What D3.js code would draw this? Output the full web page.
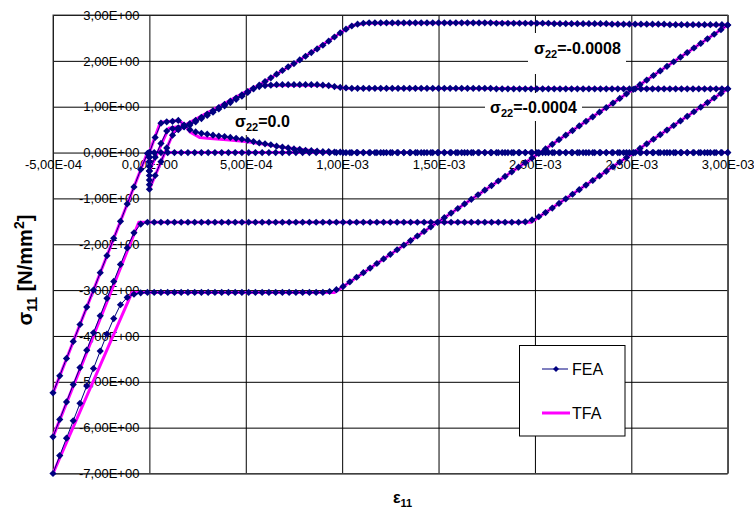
<!DOCTYPE html>
<html>
<head>
<meta charset="utf-8">
<script src="https://cdn.jsdelivr.net/npm/d3@7"></script>
<style>
body { margin: 0; background: #fff; }
svg text { font-family: "Liberation Sans", Arial, sans-serif; }
</style>
</head>
<body>
<svg width="754" height="510"></svg>
<script>
// strains are stored in units of 1e-4
var STRAIN_UNIT = 1e-4;

var strainLoad = [0,0.3,0.6,0.9,1.2,1.5,1.8,2.1,2.4,2.7,
  3,3.3,3.6,3.9,4.2,4.5,4.8,5.1,5.4,5.7,
  6,6.3,6.6,6.9,7.2,7.5,7.8,8.1,8.4,8.7,
  9,9.3,9.6,9.9,10.2,10.5,10.8,11.1,11.4,11.7,
  12,12.3,12.6,12.9,13.2,13.5,13.8,14.1,14.4,14.7,
  15,15.3,15.6,15.9,16.2,16.5,16.8,17.1,17.4,17.7,
  18,18.3,18.6,18.9,19.2,19.5,19.8,20.1,20.4,20.7,
  21,21.3,21.6,21.9,22.2,22.5,22.8,23.1,23.4,23.7,
  24,24.3,24.6,24.9,25.2,25.5,25.8,26.1,26.4,26.7,
  27,27.3,27.6,27.9,28.2,28.5,28.8,29.1,29.4,29.7,
  30];

var strainUnload = [30,29.65,29.3,28.95,28.6,28.25,27.9,27.55,27.2,26.85,
  26.5,26.15,25.8,25.45,25.1,24.75,24.4,24.05,23.7,23.35,
  23,22.65,22.3,21.95,21.6,21.25,20.9,20.55,20.2,19.85,
  19.5,19.15,18.8,18.45,18.1,17.75,17.4,17.05,16.7,16.35,
  16,15.65,15.3,14.95,14.6,14.25,13.9,13.55,13.2,12.85,
  12.5,12.15,11.8,11.45,11.1,10.75,10.4,10.05,9.7,9.35,
  9,8.65,8.3,7.95,7.6,7.25,6.9,6.55,6.2,5.85,
  5.5,5.15,4.8,4.45,4.1,3.75,3.4,3.05,2.7,2.35,
  2,1.65,1.3,0.95,0.6,0.25,-0.1,-0.45,-0.8,-1.15,
  -1.5,-1.85,-2.2,-2.55,-2.9,-3.25,-3.6,-3.95,-4.3,-4.65,
  -5];

// FEA: stress at strain 0 while sigma22 is applied
var feaPre0 = [];
var feaPre4 = [0,-0.1,-0.2,-0.3];
var feaPre8 = [0,-0.1,-0.2,-0.3,-0.4,-0.5,-0.6,-0.7];

// FEA loading (at strainLoad)
var feaLoad0 = [0,0.33,0.64,0.67,0.68,0.70,0.60,0.50,0.45,0.42,
  0.40,0.38,0.36,0.35,0.33,0.31,0.29,0.27,0.24,0.21,
  0.19,0.17,0.14,0.12,0.10,0.08,0.07,0.05,0.04,0.03,
  0.02,0.02,0.01,0.01,0,0,0,0,0,0,
  0,0,0,0,0,0,0,0,0,0,
  0,0,0,0,0,0,0,0,0,0,
  0,0,0,0,0,0,0,0,0,0,
  0,0,0,0,0,0,0,0,0,0,
  0,0,0,0,0,0,0,0,0,0,
  0,0,0,0,0,0,0,0,0,0,
  0];
var feaLoad4 = [-0.40,-0.10,0.20,0.47,0.52,0.54,0.57,0.63,0.70,0.77,
  0.84,0.91,0.98,1.05,1.12,1.19,1.26,1.33,1.40,1.44,
  1.46,1.47,1.48,1.48,1.48,1.48,1.48,1.48,1.48,1.48,
  1.47,1.46,1.44,1.42,1.41,1.40,1.40,1.40,1.40,1.40,
  1.40,1.40,1.40,1.40,1.40,1.40,1.40,1.40,1.40,1.40,
  1.40,1.40,1.40,1.40,1.40,1.40,1.40,1.40,1.40,1.40,
  1.39,1.39,1.39,1.39,1.39,1.39,1.39,1.39,1.39,1.39,
  1.39,1.39,1.39,1.39,1.39,1.39,1.39,1.39,1.39,1.39,
  1.39,1.39,1.39,1.39,1.39,1.39,1.39,1.39,1.39,1.39,
  1.39,1.39,1.39,1.39,1.39,1.39,1.39,1.39,1.39,1.39,
  1.39];
var feaLoad8 = [-0.80,-0.50,-0.20,0.10,0.38,0.50,0.56,0.60,0.67,0.74,
  0.81,0.88,0.95,1.02,1.09,1.16,1.23,1.31,1.39,1.47,
  1.55,1.63,1.71,1.79,1.87,1.94,2.02,2.10,2.18,2.26,
  2.34,2.43,2.52,2.61,2.69,2.76,2.80,2.82,2.83,2.83,
  2.83,2.83,2.83,2.83,2.83,2.83,2.83,2.83,2.83,2.83,
  2.83,2.83,2.83,2.83,2.83,2.83,2.83,2.83,2.83,2.83,
  2.82,2.82,2.82,2.82,2.82,2.82,2.82,2.82,2.82,2.82,
  2.81,2.81,2.81,2.81,2.81,2.81,2.81,2.81,2.81,2.81,
  2.80,2.80,2.80,2.80,2.80,2.80,2.80,2.80,2.80,2.80,
  2.79,2.79,2.79,2.79,2.79,2.79,2.79,2.79,2.79,2.79,
  2.78];

// FEA unloading (at strainUnload)
var feaUnload0 = [0,0,0,0,0,0,0,0,0,0,
  0,0,0,0,0,0,0,0,0,0,
  0,0,0,0,0,0,0,0,0,0,
  0,0,0,0,0,0,0,0,0,0,
  0,0,0,0,0,0,0,0,0,0,
  0,0,0,0,0,0,0,0,0,0,
  0,0,0,0,0,0,0,0,0,0,
  0,0,0,0,0,0,0,0,0,0,
  0,0,0,0,0,0,-0.02,-0.37,-0.75,-1.12,
  -1.50,-1.87,-2.25,-2.62,-3.00,-3.37,-3.75,-4.12,-4.49,-4.87,
  -5.24];
var feaUnload4 = [1.39,1.29,1.19,1.09,0.99,0.89,0.79,0.69,0.59,0.49,
  0.39,0.29,0.19,0.09,-0.01,-0.11,-0.21,-0.31,-0.41,-0.51,
  -0.61,-0.71,-0.81,-0.91,-1.01,-1.11,-1.21,-1.31,-1.40,-1.47,
  -1.51,-1.52,-1.52,-1.52,-1.52,-1.52,-1.52,-1.52,-1.52,-1.52,
  -1.52,-1.52,-1.52,-1.52,-1.52,-1.52,-1.52,-1.52,-1.52,-1.52,
  -1.52,-1.52,-1.52,-1.52,-1.52,-1.52,-1.52,-1.52,-1.52,-1.52,
  -1.52,-1.52,-1.52,-1.52,-1.52,-1.52,-1.52,-1.52,-1.52,-1.52,
  -1.52,-1.52,-1.52,-1.52,-1.52,-1.52,-1.52,-1.52,-1.52,-1.52,
  -1.52,-1.52,-1.52,-1.52,-1.52,-1.52,-1.52,-1.56,-1.75,-2.08,
  -2.44,-2.81,-3.18,-3.56,-3.93,-4.31,-4.69,-5.06,-5.44,-5.82,
  -6.20];
var feaUnload8 = [2.78,2.68,2.58,2.48,2.38,2.28,2.18,2.08,1.98,1.88,
  1.78,1.68,1.58,1.48,1.38,1.28,1.18,1.08,0.98,0.88,
  0.78,0.68,0.58,0.48,0.38,0.28,0.18,0.08,-0.02,-0.12,
  -0.22,-0.32,-0.42,-0.52,-0.62,-0.72,-0.82,-0.92,-1.02,-1.12,
  -1.22,-1.32,-1.42,-1.52,-1.62,-1.72,-1.82,-1.92,-2.02,-2.12,
  -2.22,-2.32,-2.42,-2.52,-2.62,-2.72,-2.82,-2.92,-2.99,-3.03,
  -3.05,-3.05,-3.05,-3.05,-3.05,-3.05,-3.05,-3.05,-3.05,-3.05,
  -3.05,-3.05,-3.05,-3.05,-3.05,-3.05,-3.05,-3.05,-3.05,-3.05,
  -3.05,-3.05,-3.05,-3.05,-3.05,-3.05,-3.05,-3.06,-3.09,-3.16,
  -3.32,-3.62,-3.96,-4.33,-4.71,-5.09,-5.47,-5.85,-6.23,-6.61,
  -7.00];

// TFA curves, [strain (1e-4), stress]
var tfa0 = [[0,0],[0.57,0.66],[1.0,0.68],[1.5,0.70],[1.8,0.62],[2.1,0.45],[2.6,0.33],[3.0,0.31],
  [4.0,0.28],[5.0,0.24],[6.0,0.18],[7.0,0.11],[8.0,0.06],[9.0,0.02],[10,0],[30,0],
  [-0.1,0],[-5,-5.25]];
var tfa4 = [[0,-0.4],[1.0,0.53],[1.4,0.56],[1.8,0.59],[5.4,1.42],[6.0,1.47],[9.0,1.47],[10.2,1.40],[30,1.39],
  [19.8,-1.52],[-0.55,-1.52],[-5,-6.2]];
var tfa8 = [[0,-0.8],[1.26,0.45],[1.8,0.56],[5.1,1.32],[7.8,2.02],[9.9,2.61],[10.5,2.77],[11.2,2.82],
  [18,2.83],[30,2.78],[9.6,-3.05],[-0.9,-3.05],[-5,-7.0]];

var xTicks = [-5e-4, 0, 5e-4, 1e-3, 1.5e-3, 2e-3, 2.5e-3, 3e-3];
var xTickLabels = ["-5,00E-04","0,00E+00","5,00E-04","1,00E-03","1,50E-03","2,00E-03","2,50E-03","3,00E-03"];
var yTicks = [3, 2, 1, 0, -1, -2, -3, -4, -5, -6, -7];
var yTickLabels = ["3,00E+00","2,00E+00","1,00E+00","0,00E+00","-1,00E+00","-2,00E+00","-3,00E+00",
  "-4,00E+00","-5,00E+00","-6,00E+00","-7,00E+00"];

var seriesNames = ["FEA", "TFA"];

var svg = d3.select("svg"),
    plotL = 53, plotR = 727.7, plotT = 15, plotB = 473.5;

var x = d3.scaleLinear().domain([-5e-4, 3e-3]).range([plotL, plotR]);
var y = d3.scaleLinear().domain([-7, 3]).range([plotB, plotT]);

svg.append("rect").attr("width", 754).attr("height", 510).attr("fill", "#fff");

// gridlines
svg.append("g")
    .attr("transform", "translate(0," + plotB + ")")
    .call(d3.axisBottom(x).tickValues(xTicks).tickSize(-(plotB - plotT)).tickFormat(""))
    .call(function(g) { g.select(".domain").remove(); })
    .selectAll("line").attr("stroke", "#000");
svg.append("g")
    .attr("transform", "translate(" + plotL + ",0)")
    .call(d3.axisLeft(y).tickValues(yTicks).tickSize(-(plotR - plotL)).tickFormat(""))
    .call(function(g) { g.select(".domain").remove(); })
    .selectAll("line").attr("stroke", "#000");

svg.append("rect")
    .attr("x", plotL).attr("y", plotT)
    .attr("width", plotR - plotL).attr("height", plotB - plotT)
    .attr("fill", "none").attr("stroke", "#404040");

// white boxes behind the case labels
var boxes = [[528, 33, 98, 41], [485, 93, 97, 28], [232, 110, 60, 25]];
svg.selectAll(".lblbox").data(boxes).enter().append("rect")
    .attr("x", function(d) { return d[0]; }).attr("y", function(d) { return d[1]; })
    .attr("width", function(d) { return d[2]; }).attr("height", function(d) { return d[3]; })
    .attr("fill", "#fff");

// tick labels sit on the axes through the origin
svg.append("g")
    .attr("transform", "translate(0," + y(0) + ")")
    .call(d3.axisBottom(x).tickValues(xTicks).tickSize(0).tickPadding(7)
        .tickFormat(function(d, i) { return xTickLabels[i]; }))
    .call(function(g) { g.select(".domain").remove(); })
    .selectAll("text").attr("font-size", 13).attr("fill", "#000")
    .style("font-family", "'Liberation Sans', Arial, sans-serif");
svg.append("g")
    .attr("transform", "translate(" + x(0) + ",0)")
    .call(d3.axisLeft(y).tickValues(yTicks).tickSize(0).tickPadding(10)
        .tickFormat(function(d, i) { return yTickLabels[i]; }))
    .call(function(g) { g.select(".domain").remove(); })
    .selectAll("text").attr("font-size", 13).attr("fill", "#000")
    .style("font-family", "'Liberation Sans', Arial, sans-serif");

// build the curves
function feaPoints(pre, load, unload) {
    return pre.map(function(s) { return [0, s]; })
        .concat(load.map(function(s, i) { return [strainLoad[i], s]; }))
        .concat(unload.map(function(s, i) { return [strainUnload[i], s]; }));
}
var feaCurves = [feaPoints(feaPre0, feaLoad0, feaUnload0),
                 feaPoints(feaPre4, feaLoad4, feaUnload4),
                 feaPoints(feaPre8, feaLoad8, feaUnload8)];
var tfaCurves = [tfa0, tfa4, tfa8];

var line = d3.line()
    .x(function(d) { return x(d[0] * STRAIN_UNIT); })
    .y(function(d) { return y(d[1]); });

svg.append("g").selectAll("path").data(tfaCurves).enter().append("path")
    .attr("d", line)
    .attr("fill", "none").attr("stroke", "#ff00ff").attr("stroke-width", 3)
    .attr("stroke-linejoin", "round");

svg.append("g").selectAll("path").data(feaCurves).enter().append("path")
    .attr("d", line)
    .attr("fill", "none").attr("stroke", "#000080").attr("stroke-width", 1);

var diamond = "M0,-3.6L3.6,0L0,3.6L-3.6,0Z";
var allFea = [].concat.apply([], feaCurves);
svg.append("g").selectAll("path").data(allFea).enter().append("path")
    .attr("d", diamond)
    .attr("transform", function(d) { return "translate(" + x(d[0] * STRAIN_UNIT) + "," + y(d[1]) + ")"; })
    .attr("fill", "#000080");

// case labels
function caseLabel(px, py, rest) {
    var t = svg.append("text").attr("x", px).attr("y", py)
        .attr("font-size", 16).attr("font-weight", "bold").attr("fill", "#000");
    t.append("tspan").text("σ");
    t.append("tspan").attr("dy", 4).attr("font-size", 11).text("22");
    t.append("tspan").attr("dy", -4).text(rest);
}
caseLabel(534, 54, "=-0.0008");
caseLabel(490, 113, "=-0.0004");
caseLabel(235, 127, "=0.0");

// legend
var lg = svg.append("g");
lg.append("rect").attr("x", 519.5).attr("y", 345.5).attr("width", 105.5).attr("height", 90.5)
    .attr("fill", "#fff").attr("stroke", "#000");
lg.append("line").attr("x1", 542).attr("x2", 568).attr("y1", 369).attr("y2", 369)
    .attr("stroke", "#000080").attr("stroke-width", 1);
lg.append("path").attr("d", "M0,-3L3,0L0,3L-3,0Z").attr("transform", "translate(556,369)").attr("fill", "#000080");
lg.append("line").attr("x1", 542).attr("x2", 570).attr("y1", 413).attr("y2", 413)
    .attr("stroke", "#ff00ff").attr("stroke-width", 3);
lg.selectAll("text").data(seriesNames).enter().append("text")
    .attr("x", 572).attr("y", function(d, i) { return i === 0 ? 375 : 419; })
    .attr("font-size", 16).attr("fill", "#000")
    .text(function(d) { return d; });

// axis titles
var xt = svg.append("text").attr("x", 393).attr("y", 503)
    .attr("font-size", 16).attr("font-weight", "bold").attr("fill", "#000");
xt.append("tspan").text("ε");
xt.append("tspan").attr("dy", 4).attr("font-size", 11).text("11");

var yt = svg.append("text")
    .attr("transform", "translate(32,270) rotate(-90)")
    .attr("text-anchor", "middle")
    .attr("font-size", 20).attr("font-weight", "bold").attr("fill", "#000");
yt.append("tspan").text("σ");
yt.append("tspan").attr("dy", 5).attr("font-size", 14).text("11");
yt.append("tspan").attr("dy", -5).text(" [N/mm");
yt.append("tspan").attr("dy", -8).attr("font-size", 14).text("2");
yt.append("tspan").attr("dy", 8).text("]");
</script>
</body>
</html>
